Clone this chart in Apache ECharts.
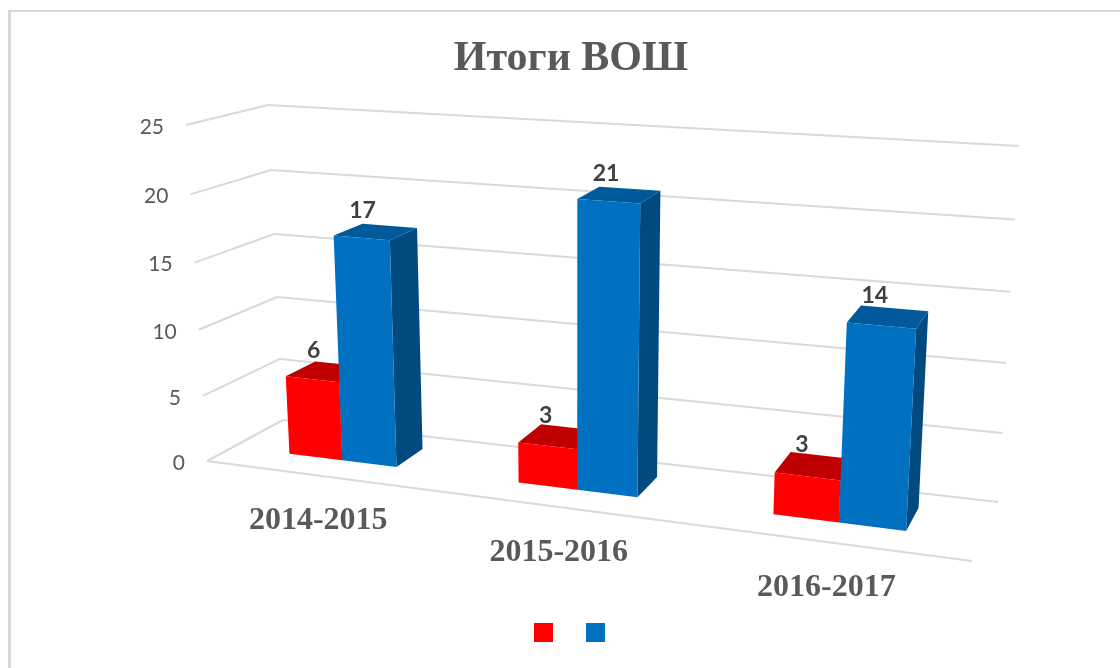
<!DOCTYPE html>
<html>
<head>
<meta charset="utf-8">
<style>html,body{margin:0;padding:0;background:#fff}#c{width:1120px;height:668px}</style>
<script src="https://cdn.jsdelivr.net/npm/echarts@6/dist/echarts.min.js"></script>
</head>
<body>
<div id="c"></div>
<script>
var chartTitle = 'Итоги ВОШ';
var categories = ['2014-2015', '2015-2016', '2016-2017'];
var yTicks = [0, 5, 10, 15, 20, 25];
var seriesRedName = 'Ряд 1';
var seriesBlueName = 'Ряд 2';
var seriesRed = [6, 3, 3];
var seriesBlue = [17, 21, 14];

// View of the 3D box: screen position of its eight corners
var BOX = {
  floorFront: [[207, 461], [972, 561]],
  floorBack:  [[283, 420], [998, 502]],
  topFront:   [[186, 125], [995, 181]],
  topBack:    [[268, 105], [1019, 146]]
};
var PERSP_X = 0.175, PERSP_Y = 0.04;
var BAR_BAND = 0.24, DEPTH_FRONT = 0.35, DEPTH_BACK = 0.75;
var GRID_COLOR = '#D9D9D9';

function mix(a, b, k) { return [a[0] + (b[0] - a[0]) * k, a[1] + (b[1] - a[1]) * k]; }
// u, t in 0..1 across the plot and up the value axis; d in 0..1 front to back
function project(u, t, d) {
  var s = u / (1 + PERSP_X * (1 - u));
  var h = t / (1 + PERSP_Y * (1 - t));
  var bottom = mix(mix(BOX.floorFront[0], BOX.floorFront[1], s), mix(BOX.floorBack[0], BOX.floorBack[1], s), d);
  var top = mix(mix(BOX.topFront[0], BOX.topFront[1], s), mix(BOX.topBack[0], BOX.topBack[1], s), d);
  return mix(bottom, top, h);
}
function norm(params, api, pt) {
  var cs = params.coordSys;
  return [(pt[0] - cs.x) / cs.width, (cs.y + cs.height - pt[1]) / cs.height];
}
function segment(a, b) {
  return { type: 'line', silent: true,
    shape: { x1: a[0], y1: a[1], x2: b[0], y2: b[1] },
    style: { stroke: GRID_COLOR, lineWidth: 2, fill: null } };
}
function wallItem(params, api) {
  var v = api.value(1);
  var t = norm(params, api, api.coord([0, v]))[1];
  var f = project(0, t, 0), b = project(0, t, 1), r = project(1, t, 1);
  var kids = [segment(f, b), segment(b, r)];
  if (v === 0) kids.push(segment(f, project(1, 0, 0)));
  kids.push({ type: 'text', silent: true, style: {
    text: String(v), x: f[0] - 22, y: f[1] + 2, align: 'right', verticalAlign: 'middle',
    fill: '#595959', font: '21px Lato' } });
  return { type: 'group', children: kids };
}
function catLabelItem(params, api) {
  var i = api.value(0);
  var u = norm(params, api, api.coord([i, 0]))[0];
  var p = project(u, 0, 0);
  return { type: 'text', silent: true, style: {
    text: categories[i], x: p[0], y: p[1] + 45.5, align: 'center', verticalAlign: 'middle',
    fill: '#595959', font: 'bold 32px "Liberation Serif"' } };
}
function barRenderer(offA, offB, front, top, side) {
  return function (params, api) {
    var i = api.value(0), v = api.value(1);
    var c = api.coord([i, v]);
    var band = api.size([1, 0])[0];
    var uA = norm(params, api, [c[0] + offA * band, 0])[0];
    var uB = norm(params, api, [c[0] + offB * band, 0])[0];
    var t = norm(params, api, c)[1];
    function P(u, h, d) { return project(u, h, d); }
    function poly(pts, color) {
      return { type: 'polygon', shape: { points: pts }, style: { fill: color } };
    }
    var ftl = P(uA, t, DEPTH_FRONT), ftr = P(uB, t, DEPTH_FRONT),
        fbl = P(uA, 0, DEPTH_FRONT), fbr = P(uB, 0, DEPTH_FRONT),
        btl = P(uA, t, DEPTH_BACK), btr = P(uB, t, DEPTH_BACK), bbr = P(uB, 0, DEPTH_BACK);
    var lab = P((uA + uB) / 2, t, (DEPTH_FRONT + DEPTH_BACK) / 2);
    return { type: 'group', children: [
      poly([fbr, bbr, btr, ftr], side),
      poly([ftl, btl, btr, ftr], top),
      poly([ftl, ftr, fbr, fbl], front),
      { type: 'text', silent: true, style: {
        text: String(v), x: lab[0] - 13, y: lab[1] - 21.5, align: 'center', verticalAlign: 'middle',
        fill: '#404040', font: 'bold 23px Lato' } }
    ] };
  };
}
function pairs(arr) { return arr.map(function (v, i) { return [i, v]; }); }

var chart = echarts.init(document.getElementById('c'), null, { renderer: 'canvas' });
chart.setOption({
  animation: false,
  backgroundColor: '#ffffff',
  title: { text: chartTitle, left: 566, top: 33, textAlign: 'center',
    textStyle: { fontFamily: '"Liberation Serif"', fontWeight: 'bold', fontSize: 42, color: '#595959' } },
  legend: { data: [seriesRedName, seriesBlueName], left: 529, top: 618, itemWidth: 19, itemHeight: 19,
    itemGap: 33, icon: 'rect', selectedMode: false, formatter: function () { return ''; } },
  grid: { left: 200, top: 100, width: 800, height: 400 },
  xAxis: { type: 'category', data: categories, show: false },
  yAxis: { type: 'value', min: 0, max: 25, interval: 5, show: false },
  graphic: [
    { type: 'rect', silent: true, shape: { x: 8, y: 10, width: 1112, height: 2 }, style: { fill: GRID_COLOR } },
    { type: 'rect', silent: true, shape: { x: 8, y: 10, width: 3, height: 658 }, style: { fill: GRID_COLOR } }
  ],
  series: [
    { type: 'custom', name: 'walls', clip: false, silent: true, z: 1,
      data: yTicks.map(function (v) { return [0, v]; }), renderItem: wallItem },
    { type: 'custom', name: 'categories', clip: false, silent: true, z: 1,
      data: categories.map(function (c, i) { return [i, 0]; }), renderItem: catLabelItem },
    { type: 'custom', name: seriesRedName, clip: false, silent: true, z: 2,
      itemStyle: { color: '#FF0000' }, data: pairs(seriesRed),
      renderItem: barRenderer(-BAR_BAND, 0, '#FF0000', '#C00000', '#A00000') },
    { type: 'custom', name: seriesBlueName, clip: false, silent: true, z: 3,
      itemStyle: { color: '#0070C0' }, data: pairs(seriesBlue),
      renderItem: barRenderer(0, BAR_BAND, '#0070C0', '#00599A', '#004A80') }
  ]
});
</script>
</body>
</html>
